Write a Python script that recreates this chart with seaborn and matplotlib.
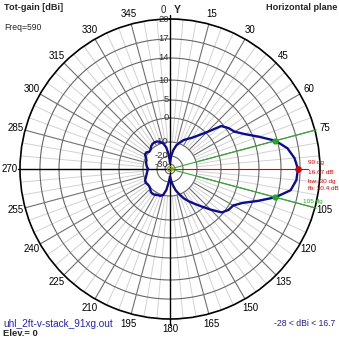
import numpy as np
import pandas as pd
import matplotlib
matplotlib.use("Agg")
import matplotlib.pyplot as plt
import seaborn as sns

# ---------------- data ----------------
angles_deg = [0, 5, 10, 15, 20, 25, 30, 35, 40, 45, 50, 55, 60, 65, 70, 75, 80, 85,
              90, 95, 100, 105, 110, 115, 120, 125, 130, 135, 140, 145, 150, 155, 160,
              165, 170, 175, 180, 185, 190, 195, 200, 205, 210, 215, 220, 225, 230, 235,
              240, 245, 250, 255, 260, 265, 270, 275, 280, 285, 290, 295, 300, 305, 310,
              315, 320, 325, 330, 335, 340, 345, 350, 355, 360]
gain_dbi = [-28, -20, -15.5, -11.8, -9.6, -8.0, -6.8, -5.4, -3.0, 0.3, 4.4, 5.6, 6.4, 8.4,
            11.0, 13.67, 15.3, 16.2, 16.67, 16.5, 15.8, 13.67, 10.8, 7.8, 6.0, 5.6, 4.6,
            1.8, -0.9, -3.6, -5.8, -7.8, -10.2, -13.5, -17.5, -22, -27, -20, -14, -10,
            -9.3, -9.3, -8.8, -8.6, -8.8, -9.6, -10, -10, -9.6, -9.8, -10.8, -11.8, -12.5,
            -13, -13.7, -12.8, -12.2, -11.6, -11.4, -10.4, -9.2, -9.2, -10.1, -9.8, -9.0,
            -8.5, -8.4, -8.6, -9.2, -10.3, -13.5, -19, -28]

peak_angle = 90
peak_gain = 16.67
bw_angles = [75, 105]
bw_gain = 13.67
beamwidth = 30
front_back = 30.4
freq = 590
elev = 0
gain_min, gain_max = -28, 16.7

ring_db = [20, 17, 14, 10, 5, 0, -10, -20, -30]
angle_ticks = list(range(15, 360, 15))

# radial scale of the chart (compressed log-like scale)
scale_db = [-40, -30, -20, -10, 0, 5, 10, 14, 17, 20]
scale_r = [0.0, 0.033, 0.087, 0.18, 0.34, 0.46, 0.593, 0.74, 0.867, 1.0]


def rad(db):
    return np.interp(db, scale_db, scale_r)


# ---------------- figure ----------------
sns.set_style("white")
plt.rcParams["font.family"] = ["Liberation Sans", "DejaVu Sans"]

W = 339
fig = plt.figure(figsize=(3.39, 3.39), dpi=100)
fig.patch.set_facecolor("white")
R = 150
cx, cy = 170, 169
ax = fig.add_axes([(cx - R) / W, (W - cy - R) / W, 2 * R / W, 2 * R / W],
                  projection="polar")
ax.set_theta_zero_location("N")
ax.set_theta_direction(-1)
ax.set_ylim(0, 1)
ax.set_xticks([])
ax.set_yticks([])
ax.grid(False)
ax.spines["polar"].set_color("black")
ax.spines["polar"].set_linewidth(1.2)

# rings
tt = np.linspace(0, 2 * np.pi, 361)
for d in ring_db[1:]:
    ax.plot(tt, np.full_like(tt, rad(d)), color="#666666", lw=0.8, zorder=1)

# spokes
r_in = rad(-10)
for a in range(0, 360, 5):
    if a % 90 == 0:
        continue
    major = a % 15 == 0
    ax.plot([np.deg2rad(a)] * 2, [r_in, 1], color="#707070" if major else "#d2d2d2",
            lw=0.8 if major else 0.7, zorder=1 if major else 0.9)

# main axes lines
ax.plot([0, 0], [0, 1.027], color="black", lw=1.0, clip_on=False, zorder=2)
ax.plot([np.pi, np.pi], [0, 1.04], color="black", lw=1.0, clip_on=False, zorder=2)
ax.plot([1.5 * np.pi] * 2, [0, 1.012], color="black", lw=1.0, clip_on=False, zorder=2)

# ring labels
for d in ring_db:
    ax.annotate(str(d), xy=(0, rad(d)), xytext=(-1.0, 0), textcoords="offset points",
                ha="right", va="center", fontsize=6.8, color="#333333", zorder=3)

# angle labels
for a in angle_ticks:
    if a == 90:
        continue
    ax.text(np.deg2rad(a), 1.068, str(a), ha="center", va="center", fontsize=7,
            color="black", clip_on=False)

# markers lines
ax.plot([np.deg2rad(peak_angle)] * 2, [0, 0.92], color="#dd0000", lw=0.8, zorder=3,
        clip_on=False)
for a in bw_angles:
    ax.plot([np.deg2rad(a)] * 2, [0, 1.01], color="#33aa33", lw=0.8, zorder=3,
            clip_on=False)

# pattern
df = pd.DataFrame({"theta": np.deg2rad(angles_deg), "r": rad(np.array(gain_dbi))})
sns.lineplot(data=df, x="theta", y="r", sort=False, estimator=None, ax=ax,
             color="#0c0c90", lw=1.7, zorder=4)
ax.set_xlabel("")
ax.set_ylabel("")

ax.scatter([np.deg2rad(peak_angle)], [rad(peak_gain)], s=14, color="#dd0000", zorder=5)
ax.scatter(np.deg2rad(bw_angles), [rad(bw_gain)] * 2, s=12, color="#22aa22", zorder=5)
ax.scatter([0], [0], s=14, facecolors="none", edgecolors="#a0a000", lw=0.8, zorder=5)


def ftext(x, y, s, **kw):
    fig.text(x / W, 1 - y / W, s, **kw)


ftext(4, 8, "Tot-gain [dBi]", fontsize=6.6, fontweight="bold", va="center")
ftext(4, 27, f"Freq={freq}", fontsize=6.2, va="center")
ftext(337, 8, "Horizontal plane", fontsize=6.6, fontweight="bold", va="center",
      ha="right")
ftext(163, 10, "0", fontsize=7, va="center", ha="center")
ftext(177, 10, "Y", fontsize=7.5, fontweight="bold", va="center", ha="center")
ftext(3, 324, "uhl_2ft-v-stack_91xg.out", fontsize=7.2, va="center", color="#2424a8")
ftext(3, 334, f"Elev.= {elev}", fontsize=6.8, fontweight="bold", va="center")
ftext(335, 324, f"{gain_min} < dBi < {gain_max}", fontsize=6.2, va="center",
      ha="right", color="#202090")

ftext(308, 162, f"{peak_angle} dg", fontsize=4.6, va="center", color="#dd0000")
ftext(308, 172, f"{peak_gain} dB", fontsize=4.6, va="center", color="#dd0000")
ftext(308, 181, f"bw: {beamwidth} dg", fontsize=4.6, va="center", color="#dd0000")
ftext(308, 189, f"fb: {front_back} dB", fontsize=4.6, va="center", color="#dd0000")
ftext(303, 202, f"{bw_angles[1]} dg", fontsize=4.6, va="center", color="#22aa22")

fig.savefig("out.png", dpi=100, facecolor="white")
